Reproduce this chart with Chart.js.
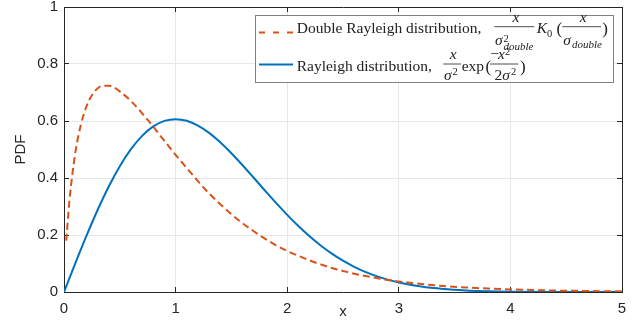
<!DOCTYPE html>
<html>
<head>
<meta charset="utf-8">
<script src="https://cdn.jsdelivr.net/npm/chart.js@4.4.1/dist/chart.umd.min.js"></script>
<style>
    html, body { margin: 0; padding: 0; background: #fff; }
    #wrap { width: 641px; height: 321px; }
</style>
</head>
<body>
<div id="wrap"><canvas id="pdfChart" width="641" height="321"></canvas></div>
<script>
// 값
const doubleX = [0.02, 0.05, 0.1, 0.15, 0.2, 0.25, 0.3, 0.35, 0.4, 0.45, 0.5, 0.6, 0.7, 0.8, 0.9,
    1.0, 1.1, 1.2, 1.3, 1.4, 1.5, 1.6, 1.7, 1.8, 1.9, 2.0, 2.1, 2.2, 2.3, 2.4, 2.5, 2.6, 2.7, 2.8, 2.9,
    3.0, 3.2, 3.4, 3.6, 3.8, 4.0, 4.2, 4.4, 4.6, 4.8, 5.0];
const doubleY = [0.18, 0.325, 0.485, 0.585, 0.650, 0.690, 0.714, 0.724, 0.724, 0.717, 0.704, 0.670, 0.627, 0.580, 0.530,
    0.481, 0.435, 0.389, 0.346, 0.308, 0.273, 0.241, 0.213, 0.187, 0.164, 0.144, 0.127, 0.111, 0.097, 0.084, 0.074, 0.064, 0.056, 0.049, 0.042,
    0.037, 0.028, 0.021, 0.016, 0.012, 0.009, 0.007, 0.005, 0.004, 0.003, 0.002];

const rayleighX = [0, 0.1, 0.2, 0.3, 0.4, 0.5, 0.6, 0.7, 0.8, 0.9, 1.0, 1.1, 1.2, 1.3, 1.4, 1.5, 1.6, 1.7, 1.8, 1.9,
    2.0, 2.1, 2.2, 2.3, 2.4, 2.5, 2.6, 2.7, 2.8, 2.9, 3.0, 3.2, 3.4, 3.6, 3.8, 4.0, 4.5, 5.0];
const rayleighY = [0, 0.0995, 0.196, 0.2868, 0.3692, 0.4412, 0.5012, 0.5479, 0.5809, 0.6003, 0.6065, 0.6007, 0.5841, 0.5584, 0.5254, 0.487, 0.4449, 0.4008, 0.3562, 0.3125,
    0.2707, 0.2315, 0.1956, 0.1633, 0.1347, 0.1098, 0.0885, 0.0705, 0.0556, 0.0433, 0.0333, 0.0191, 0.0105, 0.0055, 0.0028, 0.0013, 0.0002, 0];

const xTickLabels = ['0', '1', '2', '3', '4', '5'];
const yTickLabels = ['0', '0.2', '0.4', '0.6', '0.8', '1'];

const RED = '#D95319';
const BLUE = '#0072BD';
const AXIS = '#262626';
const GRID = '#e8e8e8';

// 눈금 라벨 때문에 생기는 여백 제거
function noPad(scale) {
    scale.paddingTop = 0;
    scale.paddingBottom = 0;
    scale.paddingLeft = 0;
    scale.paddingRight = 0;
}

// 범례 (수식 포함) 직접 그리기
const mathLegend = {
    id: 'mathLegend',
    afterDraw(chart) {
        const ctx = chart.ctx;
        const area = chart.chartArea;
        const bx = area.right - 367;
        const by = area.top + 8;
        const roman = '15.5px "Liberation Serif"';
        const ital = 'italic 15.5px "Liberation Serif"';
        const sub = 'italic 11px "Liberation Serif"';
        const sup = '10.5px "Liberation Serif"';
        const paren = '17px "Liberation Serif"';

        function t(s, dx, dy, font, align) {
            ctx.font = font;
            ctx.textAlign = align || 'left';
            ctx.fillText(s, bx + dx, by + dy);
        }
        function bar(dx1, dx2, dy) {
            ctx.beginPath();
            ctx.moveTo(bx + dx1, by + dy);
            ctx.lineTo(bx + dx2, by + dy);
            ctx.stroke();
        }

        ctx.save();
        // 상자
        ctx.fillStyle = '#fff';
        ctx.fillRect(bx, by, 358, 67);
        ctx.strokeStyle = '#808080';
        ctx.lineWidth = 1;
        ctx.strokeRect(bx + 0.5, by + 0.5, 358, 67);

        // 선 샘플
        ctx.lineWidth = 2;
        ctx.strokeStyle = RED;
        ctx.setLineDash([6, 8]);
        ctx.beginPath();
        ctx.moveTo(bx + 4, by + 17.5);
        ctx.lineTo(bx + 38, by + 17.5);
        ctx.stroke();
        ctx.setLineDash([]);
        ctx.strokeStyle = BLUE;
        ctx.beginPath();
        ctx.moveTo(bx + 4, by + 49.5);
        ctx.lineTo(bx + 38, by + 49.5);
        ctx.stroke();

        ctx.fillStyle = '#222';
        ctx.strokeStyle = '#222';
        ctx.lineWidth = 0.8;
        ctx.textBaseline = 'alphabetic';

        // 1행: Double Rayleigh
        t('Double Rayleigh distribution,', 41.7, 18.3, roman);
        t('x', 261, 6.7, ital, 'center');
        bar(239.3, 279.3, 11.7);
        t('σ', 240, 30, ital);
        t('2', 248.5, 26.7, sup);
        t('double', 248.5, 35, sub);
        t('K', 281.7, 18.3, ital);
        t('0', 292, 21.5, sup);
        t('(', 301.5, 19.3, paren);
        t('x', 328.3, 6.7, ital, 'center');
        bar(307.3, 346, 11.7);
        t('σ', 308.3, 30, ital);
        t('double', 317, 33.3, sub);
        t(')', 347.3, 19.3, paren);

        // 2행: Rayleigh
        t('Rayleigh distribution,', 41.7, 55.7, roman);
        t('x', 198.3, 44.3, ital, 'center');
        bar(188.3, 206, 49);
        t('σ', 189, 64.5, ital);
        t('2', 197.5, 60, sup);
        t('exp', 206.7, 55.7, roman);
        t('(', 230.5, 56.7, paren);
        t('−', 235.5, 44.3, roman);
        t('x', 243, 44.3, ital);
        t('2', 250, 39.5, sup);
        bar(235, 263.3, 49);
        t('2', 239.5, 64.5, roman);
        t('σ', 247.3, 64.5, ital);
        t('2', 256, 60, sup);
        t(')', 265, 56.7, paren);
        ctx.restore();
    }
};

const ctx = document.getElementById('pdfChart');

new Chart(ctx, {
    type: 'line',
    data: {
        datasets: [{
            label: 'Double Rayleigh distribution',
            data: doubleX.map((x, i) => ({x: x, y: doubleY[i]})),
            borderColor: RED,
            borderWidth: 2,
            borderDash: [7, 4],
            pointRadius: 0,
            fill: false,
            cubicInterpolationMode: 'monotone'
        }, {
            label: 'Rayleigh distribution',
            data: rayleighX.map((x, i) => ({x: x, y: rayleighY[i]})),
            borderColor: BLUE,
            borderWidth: 2,
            pointRadius: 0,
            fill: false,
            cubicInterpolationMode: 'monotone'
        }]
    },
    options: {
        responsive: false,
        animation: false,
        devicePixelRatio: 1,
        layout: {padding: {left: 0, top: 7, right: 19, bottom: 0}},
        plugins: {
            legend: {display: false},
            tooltip: {enabled: false}
        },
        scales: {
            x: {
                type: 'linear',
                position: 'bottom',
                min: 0,
                max: 5,
                grid: {color: GRID, tickColor: AXIS, tickLength: -5},
                border: {color: AXIS, width: 1},
                ticks: {
                    stepSize: 1,
                    padding: 13,
                    color: AXIS,
                    font: {family: '"Liberation Sans", Arial', size: 15},
                    maxRotation: 0,
                    callback: (v, i) => xTickLabels[i]
                },
                title: {
                    display: true,
                    text: 'x',
                    color: AXIS,
                    font: {family: '"Liberation Sans", Arial', size: 15},
                    padding: {top: 0, bottom: 0}
                },
                afterFit: (scale) => { scale.height = 29; noPad(scale); }
            },
            y: {
                type: 'linear',
                position: 'left',
                min: 0,
                max: 1,
                grid: {color: GRID, tickColor: AXIS, tickLength: -5},
                border: {color: AXIS, width: 1},
                ticks: {
                    stepSize: 0.2,
                    padding: 11,
                    color: AXIS,
                    font: {family: '"Liberation Sans", Arial', size: 15},
                    callback: (v, i) => yTickLabels[i]
                },
                title: {
                    display: true,
                    text: 'PDF',
                    color: AXIS,
                    font: {family: '"Liberation Sans", Arial', size: 15},
                    padding: {top: 12, bottom: 0}
                },
                afterFit: (scale) => { scale.width = 64; noPad(scale); }
            },
            xTop: {
                type: 'linear',
                position: 'top',
                min: 0,
                max: 5,
                grid: {drawOnChartArea: false, tickColor: AXIS, tickLength: -5},
                border: {color: AXIS, width: 1},
                ticks: {stepSize: 1, display: false},
                afterFit: (scale) => { scale.height = 0; noPad(scale); }
            },
            yRight: {
                type: 'linear',
                position: 'right',
                min: 0,
                max: 1,
                grid: {drawOnChartArea: false, tickColor: AXIS, tickLength: -5},
                border: {color: AXIS, width: 1},
                ticks: {stepSize: 0.2, display: false},
                afterFit: (scale) => { scale.width = 0; noPad(scale); }
            }
        }
    },
    plugins: [mathLegend]
});
</script>
</body>
</html>
